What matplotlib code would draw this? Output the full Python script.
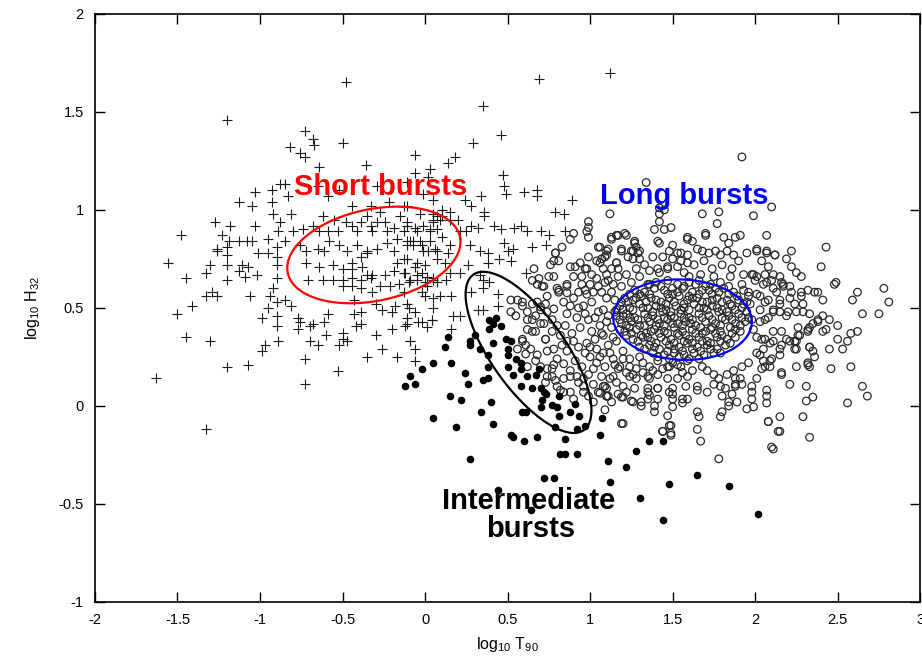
import numpy as np
import matplotlib
matplotlib.use('Agg')
from matplotlib import pyplot as plt

plt.rcParams['font.family'] = ['Liberation Sans', 'DejaVu Sans']

# log10 T90 / log10 H32 of each burst, split by class
short_bursts = np.array([
    (1.12, 1.70), (0.69, 1.67), (-0.48, 1.65), (-1.20, 1.46), (0.35, 1.53), (-0.73, 1.40), (-0.68, 1.36),
    (-0.67, 1.33), (-0.50, 1.34), (-0.82, 1.32), (-0.76, 1.29), (-0.73, 1.27), (-0.64, 1.22), (-0.36, 1.23),
    (-0.06, 1.28), (-0.06, 1.19), (0.03, 1.21), (0.02, 1.17), (0.14, 1.24), (0.18, 1.27), (0.29, 1.34),
    (0.46, 1.38), (0.47, 1.18), (0.48, 1.12), (0.49, 1.08), (0.60, 1.09), (0.68, 1.10), (0.68, 1.07),
    (0.89, 1.05), (0.34, 1.07), (0.28, 1.02), (0.24, 1.05), (0.36, 0.99), (0.36, 0.97), (0.79, 0.99),
    (0.84, 0.98), (0.10, 1.00), (0.15, 0.99), (0.20, 0.95), (0.15, 0.95), (0.10, 0.97), (0.05, 0.95),
    (0.42, 0.92), (0.46, 0.90), (0.54, 0.91), (0.58, 0.92), (0.62, 0.89), (0.70, 0.89), (0.75, 0.87),
    (0.85, 0.89), (0.65, 0.81), (0.73, 0.82), (0.28, 0.92), (0.32, 0.91), (0.25, 0.89), (0.21, 0.89),
    (0.27, 0.82), (0.33, 0.79), (0.38, 0.78), (0.48, 0.83), (0.53, 0.80), (0.50, 0.79),
    (-1.03, 1.09), (-0.93, 1.10), (-0.88, 1.13), (-0.85, 1.13), (-1.13, 1.04), (-1.05, 1.02), (-0.93, 1.04),
    (-0.83, 1.07), (-0.92, 0.98), (-0.81, 0.98), (-1.27, 0.94), (-1.18, 0.92), (-1.03, 0.92), (-0.88, 0.94),
    (-1.48, 0.87), (-1.23, 0.87), (-1.19, 0.84), (-1.13, 0.84), (-1.08, 0.84), (-1.05, 0.84), (-0.95, 0.85),
    (-1.26, 0.80), (-1.20, 0.81), (-1.01, 0.78), (-0.95, 0.78), (-0.89, 0.89), (-0.80, 0.89), (-0.85, 0.84),
    (-0.90, 0.81), (-1.56, 0.73), (-1.45, 0.65), (-1.50, 0.47), (-1.41, 0.51), (-1.45, 0.35), (-1.30, 0.33),
    (-1.63, 0.14), (-1.33, -0.12), (-1.33, 0.68), (-1.30, 0.72), (-1.20, 0.72), (-1.20, 0.64), (-1.33, 0.56),
    (-1.29, 0.58), (-1.26, 0.56), (-1.20, 0.77), (-1.26, 0.79), (-1.11, 0.72), (-1.13, 0.69), (-1.07, 0.71),
    (-1.09, 0.66), (-1.02, 0.67), (-1.06, 0.56), (-1.20, 0.20), (-1.07, 0.21), (-0.99, 0.28), (-0.97, 0.31),
    (-0.99, 0.45), (-0.95, 0.50), (-0.89, 0.33), (-0.90, 0.41), (-0.90, 0.46), (-0.90, 0.53), (-0.94, 0.56),
    (-0.92, 0.60), (-0.90, 0.65), (-0.90, 0.72), (-0.90, 0.76), (-0.85, 0.54), (-0.81, 0.51), (-0.77, 0.45),
    (-0.76, 0.43), (-0.77, 0.39), (-0.73, 0.24), (-0.73, 0.11), (-0.70, 0.41), (-0.68, 0.42), (-0.70, 0.33),
    (-0.65, 0.31), (-0.60, 0.36), (-0.61, 0.43), (-0.59, 0.47), (-0.53, 0.18), (-0.52, 0.31), (-0.50, 0.37),
    (-0.50, 0.34), (-0.47, 0.33), (-0.42, 0.41), (-0.39, 0.42), (-0.43, 0.47), (-0.35, 0.25), (-0.30, 0.36),
    (-0.26, 0.29), (-0.20, 0.39), (-0.17, 0.25), (-0.12, 0.41), (-0.11, 0.45), (-0.09, 0.33), (-0.06, 0.29),
    (-0.06, 0.23), (-0.04, 0.43), (-0.02, 0.43), (0.01, 0.40), (0.04, 0.44), (-0.06, 0.48), (0.05, 0.50),
    (0.05, 0.55), (0.00, 0.56), (-0.02, 0.58), (-0.10, 0.50), (-0.11, 0.52), (-0.20, 0.48), (-0.18, 0.51),
    (-0.26, 0.49), (-0.30, 0.52), (-0.39, 0.48), (-0.43, 0.54),
    (-0.74, 0.90), (-0.68, 0.92), (-0.64, 0.89), (-0.59, 0.89), (-0.58, 0.84), (-0.53, 0.89), (-0.48, 0.94),
    (-0.44, 0.92), (-0.41, 0.89), (-0.39, 0.94), (-0.35, 0.97), (-0.33, 0.92), (-0.32, 0.89), (-0.29, 0.94),
    (-0.24, 0.94), (-0.23, 0.89), (-0.19, 0.91), (-0.17, 0.85), (-0.13, 0.89), (-0.11, 0.94), (-0.09, 0.84),
    (-0.05, 0.89), (-0.01, 0.92), (0.03, 0.89), (0.05, 0.94), (0.07, 0.97), (-0.76, 0.82), (-0.72, 0.79),
    (-0.65, 0.80), (-0.61, 0.79), (-0.52, 0.82), (-0.47, 0.79), (-0.41, 0.82), (-0.35, 0.79), (-0.29, 0.80),
    (-0.23, 0.83), (-0.19, 0.79), (-0.11, 0.82), (-0.07, 0.84), (-0.02, 0.82), (0.02, 0.79), (0.06, 0.80),
    (-0.44, 0.73), (-0.39, 0.76), (-0.35, 0.78), (-0.17, 0.73), (-0.11, 0.75), (-0.05, 0.73), (0.00, 0.72),
    (0.07, 0.75), (-0.72, 0.73), (-0.64, 0.71), (-0.56, 0.72), (-0.50, 0.70), (-0.44, 0.70), (-0.38, 0.71),
    (-0.35, 0.67), (-0.32, 0.67), (-0.24, 0.67), (-0.19, 0.69), (-0.13, 0.68), (-0.05, 0.67), (0.01, 0.66),
    (0.05, 0.64), (-0.71, 0.64), (-0.62, 0.64), (-0.56, 0.64), (-0.50, 0.64), (-0.44, 0.65), (-0.39, 0.64),
    (-0.33, 0.65), (-0.27, 0.61), (-0.21, 0.61), (-0.16, 0.62), (-0.10, 0.63), (-0.05, 0.64), (0.01, 0.61),
    (0.07, 0.63), (-0.50, 0.61), (-0.44, 0.61), (-0.39, 0.60), (-0.32, 0.58),
    (-0.11, 1.02), (-0.03, 0.98), (0.05, 0.98), (0.09, 0.95), (-0.11, 0.92), (-0.06, 0.91), (0.03, 0.90),
    (0.07, 0.90), (-0.03, 0.84), (0.03, 0.84), (0.10, 0.86), (0.15, 0.82), (-0.11, 0.84), (-0.07, 0.82),
    (-0.01, 0.79), (0.07, 0.79), (0.14, 0.78),
    (-0.13, 0.75), (-0.06, 0.71), (-0.12, 0.68), (-0.02, 0.68), (-0.09, 0.64), (0.00, 0.63), (-0.13, 0.58),
    (0.05, 0.65), (0.12, 0.73), (0.15, 0.68), (0.13, 0.64), (0.21, 0.68), (0.26, 0.72), (0.33, 0.67),
    (0.35, 0.64), (0.39, 0.63), (0.38, 0.73), (0.45, 0.75), (0.52, 0.74), (0.61, 0.68), (0.28, 0.58),
    (0.32, 0.49), (0.35, 0.49), (0.35, 0.60), (0.44, 0.57), (0.44, 0.51), (0.16, 0.56), (0.09, 0.56),
    (0.04, 0.44), (-0.11, 0.42), (0.17, 0.46), (0.21, 0.46), (0.16, 0.39), (-0.09, 0.33),
    (-0.65, 1.12), (-0.59, 1.07), (-0.52, 1.10), (-0.44, 1.02), (-0.33, 1.02), (-0.29, 1.12), (-0.22, 1.04),
    (-0.13, 1.02), (-0.11, 1.14), (-0.01, 1.08), (0.05, 1.05), (-0.62, 0.97), (-0.55, 0.95), (-0.27, 0.99),
    (-0.15, 0.97),
])

intermediate_bursts = np.array([
    (0.05, 0.22), (-0.02, 0.19), (-0.09, 0.15), (-0.06, 0.11), (-0.12, 0.10), (0.05, -0.06), (0.39, 0.44),
    (0.43, 0.45), (0.46, 0.41), (0.39, 0.39), (0.41, 0.42), (0.30, 0.36), (0.27, 0.33), (0.27, 0.31),
    (0.14, 0.35), (0.12, 0.30), (0.16, 0.22), (0.33, 0.29), (0.38, 0.26), (0.41, 0.32), (0.49, 0.34),
    (0.52, 0.33), (0.50, 0.29), (0.50, 0.26), (0.55, 0.24), (0.50, 0.20), (0.38, 0.20), (0.38, 0.14),
    (0.35, 0.13), (0.24, 0.17), (0.26, 0.11), (0.53, 0.16), (0.58, 0.22), (0.58, 0.19), (0.58, 0.10),
    (0.62, 0.15), (0.67, 0.16), (0.69, 0.19), (0.65, 0.09), (0.70, 0.09), (0.72, 0.07), (0.73, 0.06),
    (0.71, 0.03), (0.81, 0.05), (0.15, 0.05), (0.22, 0.03), (0.40, 0.02), (0.34, -0.03), (0.61, -0.03),
    (0.59, -0.03), (0.70, -0.005), (0.77, 0.005), (0.80, -0.005), (0.81, -0.05), (0.88, -0.03), (0.91, 0.01),
    (0.93, -0.05), (0.97, -0.10), (0.92, -0.12), (0.79, -0.11), (0.19, -0.11), (0.41, -0.09), (0.53, -0.16),
    (0.60, -0.18), (0.68, -0.16), (0.85, -0.17), (1.06, -0.15), (1.07, -0.06), (0.52, -0.15), (0.27, -0.27),
    (0.82, -0.245), (0.85, -0.245), (0.92, -0.245), (0.72, -0.37), (0.78, -0.37), (1.11, -0.28), (1.22, -0.31),
    (1.28, -0.23), (1.36, -0.18), (1.44, -0.18), (1.12, -0.39), (1.30, -0.47), (1.48, -0.40), (1.44, -0.58),
    (1.65, -0.35), (1.84, -0.41), (2.02, -0.55), (0.44, -0.43), (0.64, -0.53),
])

long_bursts = np.array([
    (1.34, 1.14), (1.12, 0.98), (0.99, 0.94), (0.99, 0.91), (0.98, 0.89), (0.99, 0.86), (0.90, 0.88),
    (0.88, 0.85), (0.83, 0.81), (0.79, 0.78), (1.13, 0.85), (1.17, 0.87), (1.21, 0.88), (1.22, 0.87),
    (1.05, 0.81), (1.06, 0.81), (1.10, 0.79), (1.19, 0.80), (1.19, 0.79), (1.27, 0.83), (1.28, 0.81),
    (1.30, 0.79), (1.25, 0.79),
    (1.92, 1.27), (1.42, 1.01), (1.45, 1.00), (1.42, 0.98), (1.68, 0.98), (1.78, 0.99), (1.99, 0.97),
    (2.10, 1.015), (1.77, 0.93), (1.42, 0.94), (1.39, 0.90), (1.45, 0.90), (1.49, 0.91), (1.16, 0.87),
    (1.13, 0.86), (1.70, 0.88), (1.70, 0.87), (1.91, 0.87), (1.88, 0.86), (2.07, 0.87), (1.59, 0.86),
    (1.62, 0.84), (1.81, 0.86), (1.84, 0.83), (1.42, 0.83), (1.50, 0.82), (2.43, 0.81), (2.01, 0.80),
    (2.07, 0.79), (2.22, 0.79), (2.19, 0.75), (2.12, 0.77), (2.40, 0.71), (2.22, 0.71), (2.25, 0.68),
    (2.28, 0.66), (2.49, 0.63), (2.78, 0.60), (1.27, 0.84), (1.26, 0.79), (1.29, 0.78), (1.23, 0.76),
    (1.30, 0.75), (1.11, 0.80), (1.09, 0.76), (1.16, 0.73), (1.53, 0.78), (1.59, 0.77), (1.55, 0.74),
    (1.65, 0.80), (1.68, 0.79), (1.72, 0.78), (1.76, 0.79), (1.79, 0.77), (1.83, 0.79), (1.87, 0.77),
    (1.99, 0.67), (2.01, 0.66), (2.06, 0.67), (2.11, 0.67), (2.16, 0.63), (1.93, 0.67), (1.36, 0.69),
    (1.42, 0.68), (1.47, 0.71),
    (2.48, 0.62), (2.62, 0.58), (2.59, 0.54), (2.81, 0.53), (2.75, 0.47), (2.65, 0.47), (2.62, 0.38),
    (2.58, 0.37), (2.56, 0.33), (2.50, 0.34), (2.53, 0.29), (2.45, 0.29), (2.50, 0.41), (2.41, 0.38),
    (2.43, 0.39), (2.45, 0.44), (2.41, 0.46), (2.38, 0.43), (2.33, 0.47), (2.41, 0.54), (2.38, 0.58),
    (2.36, 0.58), (2.28, 0.58), (2.29, 0.52), (2.29, 0.48), (2.22, 0.58), (2.21, 0.55), (2.33, 0.40),
    (2.32, 0.38), (2.27, 0.36), (2.25, 0.33), (2.24, 0.29), (2.33, 0.30), (2.35, 0.28), (2.46, 0.19),
    (2.58, 0.20), (2.32, 0.21), (2.33, 0.20), (2.65, 0.10), (2.68, 0.05), (2.56, 0.015), (2.31, 0.10),
    (2.35, 0.045), (2.31, 0.025), (2.29, -0.055), (2.33, -0.16), (2.21, 0.11), (2.16, 0.17), (2.16, 0.16),
    (2.15, -0.055), (2.15, -0.13), (2.08, -0.08), (2.07, 0.05), (2.07, 0.08), (2.07, 0.015), (1.99, -0.005),
    (1.95, -0.015), (1.98, 0.035), (1.98, 0.07), (1.98, 0.10), (1.89, 0.02), (1.88, 0.11), (1.91, 0.14),
    (1.88, 0.14), (1.84, 0.02), (1.84, 0.00), (1.80, -0.03), (1.79, -0.055), (1.66, -0.055), (1.65, -0.03),
    (1.65, -0.12), (1.67, -0.18), (1.59, 0.035), (1.56, 0.015), (1.50, -0.005), (1.48, -0.10), (1.49, -0.14),
    (1.44, -0.13), (1.47, -0.05), (1.39, 0.00), (1.39, -0.03), (1.31, 0.02), (1.31, 0.00), (1.26, 0.02),
    (1.20, -0.09), (1.10, 0.05), (1.06, 0.065), (1.09, -0.02), (1.22, 0.07), (1.20, 0.045), (1.35, 0.09),
    (1.41, 0.09), (1.36, 0.055), (1.50, 0.09), (1.50, 0.06), (1.58, 0.10), (1.65, 0.08), (1.65, 0.10),
    (1.71, 0.07), (1.75, 0.11), (1.79, 0.10), (1.82, 0.09), (1.80, 0.05), (1.86, 0.06), (2.10, -0.21),
    (1.14, 0.15), (1.17, 0.19), (1.24, 0.15), (1.26, 0.16), (1.32, 0.17), (1.36, 0.14), (1.38, 0.18),
    (1.44, 0.19), (1.48, 0.20), (1.53, 0.21), (1.56, 0.17), (1.62, 0.18), (1.68, 0.20), (1.71, 0.18),
    (1.75, 0.16), (1.78, 0.14), (1.83, 0.16), (1.87, 0.18), (1.92, 0.20), (1.96, 0.22), (2.01, 0.14),
    (2.04, 0.19), (2.09, 0.20), (2.05, 0.23), (2.10, 0.24), (1.88, 0.10), (1.92, 0.11),
    (1.09, 0.63), (1.07, 0.58), (1.10, 0.55), (1.08, 0.49), (1.10, 0.43), (1.07, 0.37), (1.11, 0.31),
    (1.08, 0.27), (1.14, 0.24),
    (2.01, 0.57), (2.06, 0.53), (2.11, 0.49), (2.15, 0.48), (2.08, 0.45), (2.03, 0.43), (1.99, 0.39),
    (2.01, 0.35), (2.06, 0.34), (2.11, 0.33), (2.16, 0.31), (2.05, 0.29), (2.01, 0.27), (2.11, 0.38),
    (2.16, 0.38), (2.19, 0.34), (2.24, 0.33), (2.26, 0.36), (2.20, 0.48), (2.24, 0.52), (2.15, 0.54),
    (2.11, 0.60), (2.17, 0.61), (2.07, 0.63),
    (2.01, 0.79), (2.07, 0.78), (2.12, 0.77), (2.04, 0.74), (2.08, 0.71), (1.98, 0.67), (2.00, 0.64),
    (2.05, 0.62), (2.10, 0.64), (2.15, 0.66), (2.17, 0.62), (2.21, 0.61), (2.13, 0.58), (2.03, 0.56),
    (2.08, 0.54), (2.03, 0.49), (2.11, 0.48), (2.06, 0.44), (2.15, 0.52), (2.19, 0.46), (2.25, 0.48),
    (2.28, 0.56), (2.32, 0.59), (2.26, 0.40), (2.32, 0.39), (2.35, 0.42), (2.38, 0.44), (2.21, 0.33),
    (2.25, 0.29), (2.15, 0.29), (2.09, 0.32), (2.04, 0.34), (2.33, 0.30), (2.36, 0.25), (2.32, 0.22),
    (2.25, 0.20), (2.15, 0.26), (2.09, 0.23), (2.03, 0.26), (2.06, 0.20),
    (0.79, 0.78), (0.78, 0.74), (0.81, 0.74), (0.76, 0.72), (0.75, 0.66), (0.78, 0.66), (0.66, 0.70),
    (0.65, 0.64), (0.69, 0.65), (0.72, 0.61), (0.68, 0.62), (0.86, 0.62), (0.81, 0.58), (0.88, 0.71),
    (0.91, 0.71), (0.95, 0.66), (0.98, 0.70), (0.99, 0.76), (1.04, 0.74), (1.07, 0.75), (1.10, 0.77),
    (1.13, 0.70), (1.08, 0.70), (1.17, 0.70), (0.95, 0.62), (1.00, 0.62), (1.05, 0.61), (1.11, 0.64),
    (1.17, 0.66), (1.22, 0.67), (1.19, 0.61), (0.81, 0.59), (0.86, 0.577), (0.93, 0.58), (0.98, 0.57),
    (1.41, 0.84), (1.44, 0.76), (1.48, 0.79), (1.55, 0.78), (1.59, 0.85), (1.59, 0.73), (1.41, 0.70),
    (1.47, 0.70), (1.53, 0.71),
    (0.59, 0.53), (0.62, 0.44), (0.67, 0.46), (0.65, 0.38), (0.73, 0.34), (0.59, 0.33), (0.61, 0.265),
    (0.67, 0.23), (0.62, 0.20), (0.70, 0.20), (0.74, 0.19), (0.78, 0.21), (0.77, 0.15), (0.80, 0.10),
    (0.82, 0.08), (0.73, 0.12), (0.86, 0.47), (0.85, 0.41), (0.89, 0.37), (0.83, 0.31), (0.86, 0.28),
    (0.90, 0.33), (0.91, 0.23), (0.95, 0.20), (0.88, 0.15), (0.93, 0.12), (0.96, 0.14), (0.70, 0.505),
    (0.73, 0.52), (0.78, 0.495), (0.72, 0.42), (0.77, 0.38), (0.96, 0.51), (1.01, 0.53), (1.05, 0.48),
    (0.99, 0.44), (0.94, 0.40), (1.01, 0.38), (1.06, 0.41), (1.03, 0.34), (1.08, 0.36), (0.98, 0.32),
    (1.04, 0.29), (1.00, 0.25), (1.06, 0.25), (1.09, 0.20), (1.02, 0.19), (1.07, 0.15), (1.12, 0.14),
    (1.08, 0.10), (1.05, 0.07), (1.10, 0.05), (1.13, 0.02), (1.16, 0.49), (1.20, 0.46), (1.18, 0.39),
    (1.22, 0.36), (1.16, 0.33), (1.20, 0.28), (1.24, 0.24), (1.18, 0.20), (1.22, 0.17), (1.28, 0.19),
    (1.32, 0.22), (1.36, 0.20), (1.41, 0.23), (1.47, 0.20), (1.50, 0.22), (1.55, 0.20), (1.59, 0.23),
    (1.28, 0.14), (1.35, 0.15), (1.41, 0.16), (1.47, 0.14), (1.53, 0.14), (1.59, 0.15), (1.20, 0.10),
    (1.27, 0.09), (1.35, 0.07), (1.41, 0.09), (1.48, 0.07), (1.19, 0.045), (1.25, 0.025), (1.35, 0.035),
    (1.41, 0.035), (1.50, 0.035), (1.56, 0.035), (1.09, 0.10), (1.11, 0.05),
    (0.52, 0.54), (0.56, 0.54), (0.59, 0.51), (0.55, 0.46), (0.52, 0.48), (0.62, 0.48), (0.65, 0.52),
    (0.68, 0.53), (0.70, 0.49), (0.74, 0.48), (0.65, 0.44), (0.70, 0.42), (0.67, 0.38), (0.73, 0.34),
    (0.62, 0.39), (0.59, 0.34), (0.61, 0.31), (0.56, 0.29), (0.64, 0.29), (0.68, 0.26), (0.74, 0.28),
    (0.78, 0.29), (0.80, 0.24), (0.84, 0.215), (0.77, 0.19), (0.74, 0.15), (0.79, 0.13), (0.84, 0.14),
    (0.88, 0.07), (0.84, 0.07), (0.90, 0.035), (0.96, 0.07), (0.96, 0.10), (0.99, 0.05), (1.02, 0.02),
    (0.88, 0.18), (0.92, 0.15), (0.86, 0.33), (0.82, 0.36), (0.80, 0.41), (0.77, 0.44),
    (0.97, 0.70), (0.90, 0.66), (0.94, 0.73), (0.86, 0.61), (0.80, 0.60), (0.74, 0.56), (0.71, 0.61),
    (1.06, 0.73), (1.10, 0.67), (1.16, 0.73), (1.26, 0.75), (1.28, 0.70),
    (1.19, -0.09), (1.44, -0.13), (1.49, -0.10), (1.49, -0.15), (1.78, -0.27), (2.11, -0.22), (2.08, -0.08),
    (2.14, -0.13),
    (1.50, 0.75), (1.57, 0.68), (1.63, 0.72), (1.69, 0.74), (1.74, 0.70), (1.80, 0.72), (1.86, 0.70),
    (1.90, 0.74), (1.95, 0.78), (1.33, 0.72), (1.38, 0.76), (1.60, 0.66), (1.67, 0.67), (1.75, 0.66),
    (1.85, 0.66), (1.92, 0.62), (1.96, 0.58), (1.30, 0.66), (1.25, 0.63), (1.35, 0.62),
    (0.84, 0.53), (0.90, 0.55), (0.93, 0.50), (0.88, 0.51), (1.02, 0.58), (0.97, 0.59),
    (0.92, 0.45), (0.97, 0.47), (1.03, 0.45), (1.11, 0.46), (1.13, 0.40), (1.14, 0.35), (1.12, 0.27),
    (1.15, 0.21), (1.04, 0.22), (0.97, 0.27), (0.93, 0.30), (1.00, 0.30), (1.10, 0.09), (1.16, 0.12),
    (1.17, 0.06), (1.02, 0.11), (0.99, 0.16), (1.24, 0.20), (1.30, 0.25), (1.20, 0.24), (1.13, 0.58),
    (1.15, 0.54), (1.04, 0.65), (1.01, 0.67), (1.14, 0.62),
    # dense core of the long class
    (1.40, 0.63), (1.47, 0.64), (1.53, 0.62), (1.60, 0.63), (1.66, 0.64), (1.73, 0.62), (1.79, 0.63),
    (1.27, 0.59), (1.33, 0.58), (1.39, 0.60), (1.45, 0.59), (1.50, 0.57), (1.56, 0.60), (1.62, 0.58),
    (1.68, 0.59), (1.74, 0.57), (1.81, 0.60), (1.87, 0.58), (1.93, 0.59),
    (1.21, 0.55), (1.26, 0.54), (1.31, 0.56), (1.37, 0.55), (1.43, 0.53), (1.48, 0.55), (1.54, 0.56),
    (1.59, 0.54), (1.65, 0.55), (1.71, 0.53), (1.77, 0.55), (1.83, 0.54), (1.89, 0.56), (1.95, 0.53),
    (1.18, 0.51), (1.24, 0.50), (1.30, 0.52), (1.35, 0.50), (1.40, 0.51), (1.46, 0.49), (1.52, 0.51),
    (1.57, 0.50), (1.63, 0.52), (1.69, 0.50), (1.74, 0.51), (1.80, 0.49), (1.86, 0.51), (1.92, 0.50),
    (1.97, 0.52),
    (1.16, 0.46), (1.22, 0.47), (1.27, 0.45), (1.33, 0.47), (1.38, 0.46), (1.44, 0.48), (1.49, 0.46),
    (1.55, 0.47), (1.60, 0.45), (1.66, 0.47), (1.72, 0.46), (1.78, 0.48), (1.84, 0.46), (1.90, 0.47),
    (1.96, 0.45),
    (1.19, 0.42), (1.25, 0.43), (1.30, 0.41), (1.36, 0.43), (1.42, 0.42), (1.47, 0.44), (1.53, 0.42),
    (1.58, 0.43), (1.64, 0.41), (1.70, 0.43), (1.76, 0.42), (1.82, 0.44), (1.88, 0.42), (1.94, 0.43),
    (1.21, 0.38), (1.28, 0.39), (1.34, 0.37), (1.39, 0.39), (1.45, 0.38), (1.51, 0.40), (1.56, 0.38),
    (1.62, 0.39), (1.68, 0.37), (1.73, 0.39), (1.79, 0.38), (1.85, 0.40), (1.91, 0.38),
    (1.26, 0.34), (1.32, 0.35), (1.37, 0.33), (1.43, 0.35), (1.49, 0.34), (1.54, 0.36), (1.60, 0.34),
    (1.66, 0.35), (1.71, 0.33), (1.77, 0.35), (1.83, 0.34), (1.88, 0.35),
    (1.30, 0.30), (1.36, 0.31), (1.42, 0.29), (1.48, 0.31), (1.54, 0.30), (1.59, 0.32), (1.65, 0.30),
    (1.71, 0.31), (1.77, 0.29), (1.82, 0.31),
    (1.38, 0.27), (1.45, 0.26), (1.51, 0.27), (1.57, 0.26), (1.63, 0.27), (1.69, 0.26), (1.75, 0.27),
    (1.43, 0.61), (1.57, 0.61), (1.70, 0.61), (1.30, 0.57), (1.47, 0.57), (1.60, 0.56), (1.78, 0.58),
    (1.90, 0.54), (1.23, 0.53), (1.34, 0.53), (1.51, 0.53), (1.68, 0.53), (1.85, 0.52), (1.20, 0.49),
    (1.38, 0.48), (1.55, 0.49), (1.71, 0.49), (1.88, 0.49), (1.29, 0.44), (1.45, 0.45), (1.62, 0.44),
    (1.80, 0.45), (1.92, 0.45), (1.24, 0.40), (1.40, 0.41), (1.56, 0.41), (1.74, 0.40), (1.88, 0.39),
    (1.31, 0.36), (1.47, 0.37), (1.64, 0.37), (1.80, 0.36), (1.40, 0.32), (1.57, 0.33), (1.73, 0.32),
    (1.47, 0.28), (1.62, 0.29),
    (1.36, 0.62), (1.50, 0.60), (1.64, 0.62), (1.76, 0.60), (1.84, 0.61),
    (1.24, 0.57), (1.36, 0.57), (1.53, 0.58), (1.66, 0.57), (1.72, 0.59), (1.84, 0.57), (1.96, 0.56),
    (1.19, 0.53), (1.28, 0.55), (1.40, 0.54), (1.46, 0.52), (1.57, 0.52), (1.62, 0.55), (1.74, 0.54),
    (1.80, 0.53), (1.93, 0.52),
    (1.15, 0.48), (1.26, 0.49), (1.32, 0.50), (1.43, 0.50), (1.49, 0.48), (1.60, 0.49), (1.66, 0.50),
    (1.77, 0.50), (1.83, 0.48), (1.95, 0.48),
    (1.18, 0.44), (1.24, 0.45), (1.35, 0.45), (1.41, 0.44), (1.51, 0.45), (1.57, 0.45), (1.68, 0.45),
    (1.74, 0.44), (1.86, 0.44), (1.98, 0.44),
    (1.22, 0.41), (1.33, 0.41), (1.45, 0.41), (1.50, 0.42), (1.61, 0.42), (1.67, 0.40), (1.79, 0.41),
    (1.91, 0.41),
    (1.25, 0.37), (1.37, 0.38), (1.42, 0.37), (1.53, 0.37), (1.58, 0.36), (1.70, 0.38), (1.76, 0.37),
    (1.86, 0.37),
    (1.29, 0.33), (1.35, 0.35), (1.46, 0.33), (1.51, 0.32), (1.62, 0.32), (1.68, 0.33), (1.79, 0.33),
    (1.85, 0.32),
    (1.33, 0.29), (1.39, 0.30), (1.51, 0.29), (1.56, 0.28), (1.67, 0.28), (1.73, 0.29), (1.79, 0.27),
    (1.41, 0.25), (1.54, 0.25), (1.66, 0.24), (1.48, 0.24), (1.60, 0.24),
])

# 1-sigma ellipses of the three groups: centre, semi-axes, tilt (deg)
ellipse_centres = [(-0.31, 0.77), (0.627, 0.273), (1.56, 0.44)]
ellipse_axes = [(0.53, 0.235), (0.52, 0.21), (0.42, 0.205)]
ellipse_tilts = [9, -48, -2]
ellipse_colors = ['#ff0000', '#000000', '#0000ff']

fig = plt.figure(figsize=(9.22, 6.6), dpi=100)
ax = fig.add_axes([0.103, 0.088, 0.895, 0.891])

ax.scatter(short_bursts[:, 0], short_bursts[:, 1], marker='+', s=42, c='#1a1a1a', linewidths=0.8, zorder=2)
ax.scatter(long_bursts[:, 0], long_bursts[:, 1], marker='o', s=30, facecolors='none',
           edgecolors='#2a2a2a', linewidths=0.9, zorder=3)
ax.scatter(intermediate_bursts[:, 0], intermediate_bursts[:, 1], marker='o', s=30, c='black',
           linewidths=0, zorder=4)

t = np.linspace(0, 2 * np.pi, 300)
for (cx, cy), (a, b), ang, col in zip(ellipse_centres, ellipse_axes, ellipse_tilts, ellipse_colors):
    th = np.radians(ang)
    ex = cx + a * np.cos(t) * np.cos(th) - b * np.sin(t) * np.sin(th)
    ey = cy + a * np.cos(t) * np.sin(th) + b * np.sin(t) * np.cos(th)
    ax.plot(ex, ey, color=col, lw=1.6, zorder=5)

ax.text(-0.27, 1.077, 'Short bursts', color='#ff0000', fontsize=21, fontweight='bold',
        ha='center', va='baseline', zorder=6)
ax.text(1.57, 1.03, 'Long bursts', color='#0000ff', fontsize=21, fontweight='bold',
        ha='center', va='baseline', zorder=6)
ax.text(0.625, -0.525, 'Intermediate', color='black', fontsize=21, fontweight='bold',
        ha='center', va='baseline', zorder=6)
ax.text(0.64, -0.668, 'bursts', color='black', fontsize=21, fontweight='bold',
        ha='center', va='baseline', zorder=6)

ax.set_xlim(-2, 3)
ax.set_ylim(-1, 2)
ax.set_xticks([-2, -1.5, -1, -0.5, 0, 0.5, 1, 1.5, 2, 2.5, 3])
ax.set_xticklabels(['-2', '-1.5', '-1', '-0.5', '0', '0.5', '1', '1.5', '2', '2.5', '3'])
ax.set_yticks([-1, -0.5, 0, 0.5, 1, 1.5, 2])
ax.set_yticklabels(['-1', '-0.5', '0', '0.5', '1', '1.5', '2'])
ax.tick_params(direction='in', length=7, width=1, top=True, right=True, labelsize=10.5, pad=8)
for sp in ax.spines.values():
    sp.set_linewidth(1.2)

ax.set_xlabel(r'log$_{\mathregular{10}}$ T$_{\mathregular{90}}$', fontsize=11.5, labelpad=6)
ax.set_ylabel(r'log$_{\mathregular{10}}$ H$_{\mathregular{32}}$', fontsize=11.5, labelpad=12)

fig.savefig('out.png', dpi=100)
